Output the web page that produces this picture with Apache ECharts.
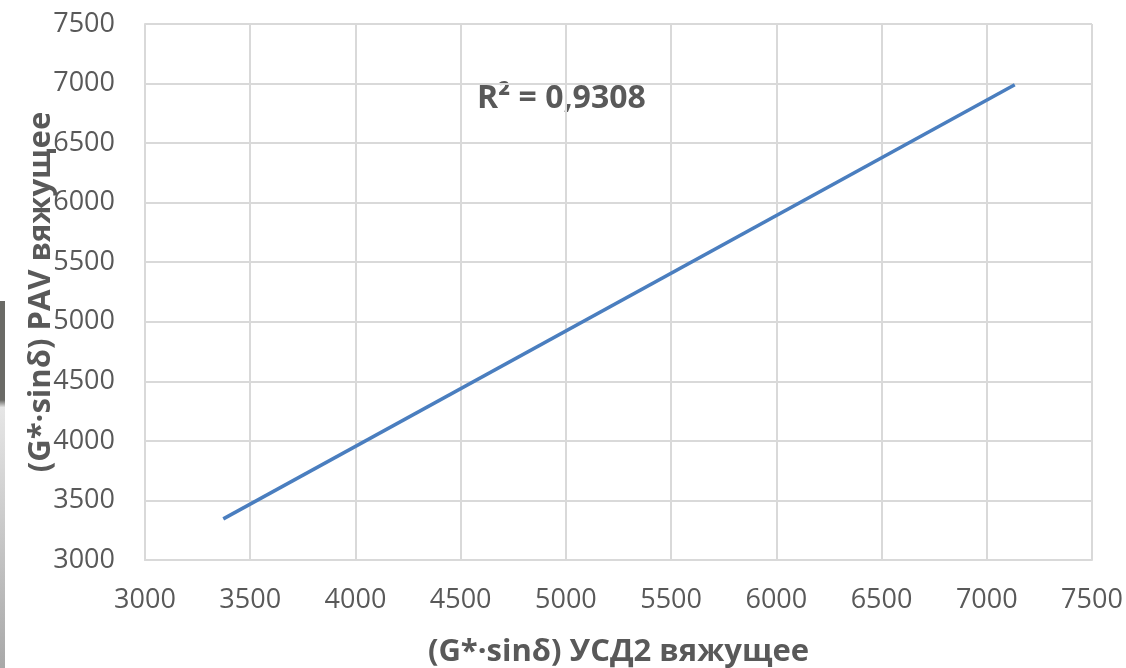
<!DOCTYPE html>
<html>
<head>
<meta charset="utf-8">
<script src="https://cdn.jsdelivr.net/npm/echarts@6/dist/echarts.min.js"></script>
<style>html,body{margin:0;padding:0;background:#fff}#c{width:1126px;height:668px}</style>
</head>
<body>
<div id="c"></div>
<script>
const xTitle = '(G*·sinδ) УСД2 вяжущее';
const yTitle = '(G*·sinδ) PAV вяжущее';
const trendX = [3372, 7133];
const trendY = [3345, 6990];
const r2Text = 'R² = 0,9308';
const axisMin = 3000, axisMax = 7500, axisStep = 500;

const font = 'Open Sans';
const chart = echarts.init(document.getElementById('c'));
chart.setOption({
  animation: false,
  grid: {left: 145, right: 34, top: 24, bottom: 108, outerBoundsMode: 'none', containLabel: false},
  xAxis: {
    type: 'value', min: axisMin, max: axisMax, interval: axisStep,
    name: xTitle, nameLocation: 'middle', nameGap: 77,
    nameTextStyle: {fontFamily: font, fontSize: 31, fontWeight: 'bold', color: '#595959'},
    axisLine: {show: true, lineStyle: {color: '#d9d9d9', width: 2}},
    axisTick: {show: false},
    axisLabel: {fontFamily: font, fontSize: 27, color: '#595959', margin: 27, formatter: v => String(v)},
    splitLine: {show: true, lineStyle: {color: '#d9d9d9', width: 2}}
  },
  yAxis: {
    type: 'value', min: axisMin, max: axisMax, interval: axisStep,
    name: yTitle, nameLocation: 'middle', nameGap: 88, nameRotate: 90, nameMoveOverlap: false,
    nameTextStyle: {fontFamily: font, fontSize: 31, fontWeight: 'bold', color: '#595959'},
    axisLine: {show: true, lineStyle: {color: '#d9d9d9', width: 2}},
    axisTick: {show: false},
    axisLabel: {fontFamily: font, fontSize: 27, color: '#595959', margin: 30, formatter: v => String(v)},
    splitLine: {show: true, lineStyle: {color: '#d9d9d9', width: 2}}
  },
  series: [{
    type: 'line',
    data: trendX.map((x, i) => [x, trendY[i]]),
    showSymbol: false,
    lineStyle: {color: '#4a7ebf', width: 3.5}
  }],
  graphic: [
    {type: 'text', left: 477, top: 83,
     style: {text: r2Text, fontFamily: font, fontSize: 32, fontWeight: 'bold', fill: '#595959'}},
    {type: 'rect', shape: {x: 0, y: 301, width: 5, height: 367},
     style: {fill: new echarts.graphic.LinearGradient(0, 0, 0, 1, [
       {offset: 0, color: '#6a6a66'}, {offset: 0.27, color: '#6a6a66'},
       {offset: 0.29, color: '#e6e6e6'}, {offset: 1, color: '#a8a8a8'}])}}
  ]
});
</script>
</body>
</html>
